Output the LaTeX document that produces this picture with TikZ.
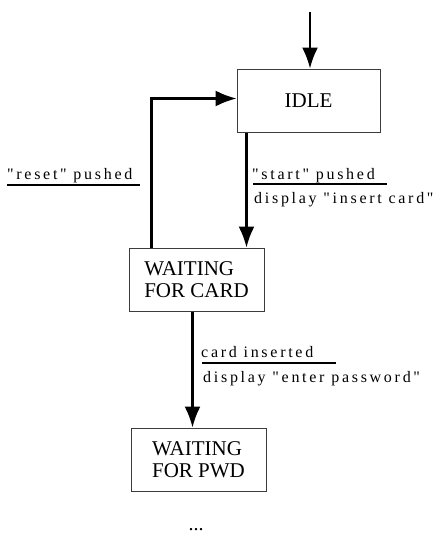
\documentclass[tikz,border=0pt]{standalone}
\usepackage{fontspec}
\setmainfont{Liberation Serif}
\newfontfamily\lblfont[LetterSpace=17,Ligatures=TeXOff]{Liberation Serif}
\usepackage{xcolor}
\definecolor{BoxLine}{RGB}{60,60,60}
\usetikzlibrary{arrows.meta}
\tikzset{
  state/.style={draw=BoxLine, line width=1pt, align=left,
    font=\fontsize{21}{22}\selectfont, inner sep=0pt},
  trans/.style={line width=2.1pt, -{Latex[length=21pt,width=16pt]}},
  lbl/.style={anchor=base west, inner sep=0pt, font=\lblfont\fontsize{16}{18}\selectfont},
  rule/.style={line width=1.5pt}
}

\begin{document}
\begin{tikzpicture}[x=1pt,y=-1pt]
            \useasboundingbox (0,0) rectangle (438,541);
            \coordinate (entry) at (310,12);
            \node[state, minimum width=143pt, minimum height=63pt] (idle) at (308.5,100.5) {IDLE};
            \node[state, minimum width=135pt, minimum height=63pt] (card) at (196.5,279.5) {WAITING\\FOR CARD};
            \node[state, minimum width=135pt, minimum height=63pt] (pwd) at (198.5,459.5) {WAITING\\FOR PWD};
            \node[font=\fontsize{20}{22}\selectfont] (more) at (196,530) {...};
            \draw[trans] (entry) -- (entry |- idle.north);
            \draw[trans] ([xshift=10pt]idle.south west) -- ([xshift=10pt]idle.south west |- card.north);
            \draw[trans] ([xshift=23pt]card.north west) |- ([yshift=2pt]idle.west);
            \draw[trans] ([xshift=64pt]card.south west) -- ([xshift=64pt]card.south west |- pwd.north);
            \node[lbl] (resetlbl) at (7,179) {"reset" pushed};
            \draw[rule] ([yshift=-6pt]resetlbl.base west) -- ++(133,0);
            \node[lbl] (startlbl) at (252,179) {"start" pushed};
            \draw[rule] ([yshift=-5pt,xshift=1pt]startlbl.base west) -- ++(134,0);
            \node[lbl] (startact) at (254,203) {display "insert card"};
            \node[lbl] (cardlbl) at (201,357) {card inserted};
            \draw[rule] ([yshift=-6pt,xshift=1pt]cardlbl.base west) -- ++(134,0);
            \node[lbl] (cardact) at (203,382) {display "enter password"};
        \end{tikzpicture}
\end{document}
